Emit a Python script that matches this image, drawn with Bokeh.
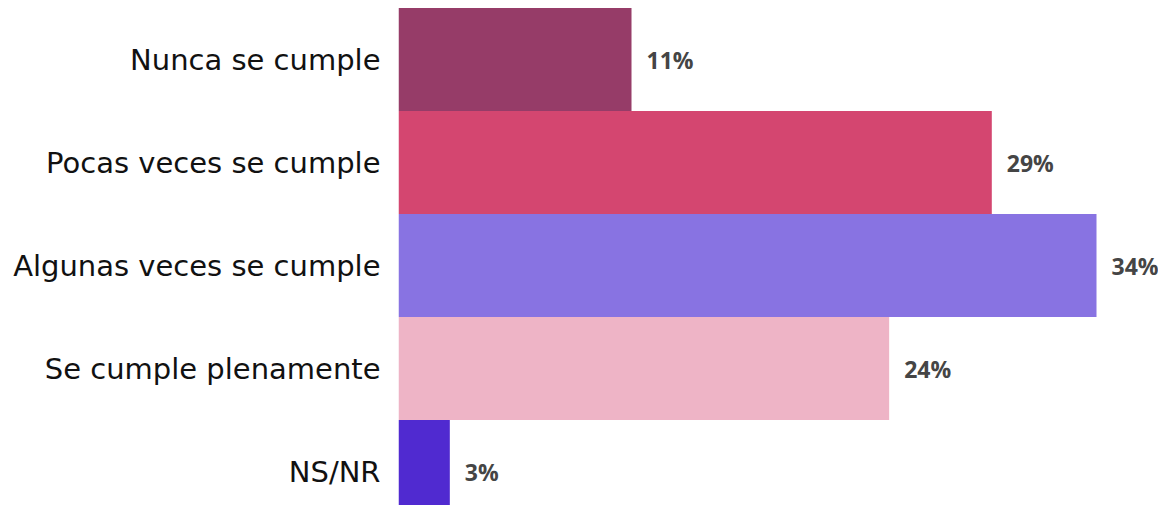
from bokeh.plotting import figure
from bokeh.models import Range1d, ColumnDataSource, FixedTicker
from bokeh.core.properties import value
from bokeh.embed import file_html
from bokeh.resources import INLINE

categories = ["Nunca se cumple", "Pocas veces se cumple", "Algunas veces se cumple",
              "Se cumple plenamente", "NS/NR"]
values = [11.35, 28.9, 34.0, 23.9, 2.5]
labels = ["11%", "29%", "34%", "24%", "3%"]
colors = ["#963c68", "#d44670", "#8873e2", "#eeb4c6", "#502ad0"]

pos = list(range(len(categories)))
src = ColumnDataSource(dict(y=pos, v=values, lab=labels, c=colors))

p = figure(width=1158, height=505, output_backend="svg", toolbar_location=None,
           x_range=Range1d(0, 37.02), y_range=Range1d(4.330, -0.573),
           min_border_left=398, min_border_right=0, min_border_top=0, min_border_bottom=0)
p.hbar(y="y", left=0, right="v", height=1.0, fill_color="c", line_color=None, source=src)
p.text(x="v", y="y", text="lab", x_offset=15, text_align="left", text_baseline="middle",
       text_font=value("Open Sans"), text_font_style="bold", text_font_size="23px",
       text_color="#454545", source=src)

p.xaxis.visible = False
p.yaxis.ticker = FixedTicker(ticks=pos)
p.yaxis.major_label_overrides = {i: c for i, c in zip(pos, categories)}
p.yaxis.axis_line_color = None
p.yaxis.major_tick_line_color = None
p.yaxis.minor_tick_line_color = None
p.yaxis.major_tick_out = 0
p.yaxis.major_tick_in = 0
p.yaxis.major_label_standoff = 18
p.yaxis.major_label_text_font = "DejaVu Sans"
p.yaxis.major_label_text_font_size = "29px"
p.yaxis.major_label_text_color = "#111111"
p.xgrid.visible = False
p.ygrid.visible = False
p.outline_line_color = None

open("out.html", "w").write(file_html(p, INLINE))
